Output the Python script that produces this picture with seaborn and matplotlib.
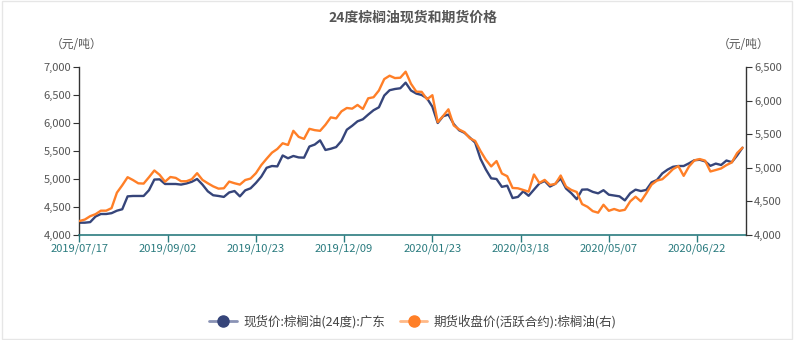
import numpy as np
import pandas as pd
import matplotlib
matplotlib.use("Agg")
import matplotlib.pyplot as plt
from matplotlib.lines import Line2D
from matplotlib.patches import Rectangle
import seaborn as sns

# ---------------- data ----------------
title = "24度棕榈油现货和期货价格"
unit = "（元/吨）"
spot_name = "现货价:棕榈油(24度):广东"
fut_name = "期货收盘价(活跃合约):棕榈油(右)"

tick_labels = ["2019/07/17", "2019/09/02", "2019/10/23", "2019/12/09",
               "2020/01/23", "2020/03/18", "2020/05/07", "2020/06/22"]
tick_every = 33          # trading days between labelled ticks
step = 2                 # trading days between samples

spot = [4220, 4220, 4230, 4330, 4375, 4375, 4390, 4434, 4460, 4690,
        4697, 4697, 4697, 4800, 4990, 4994, 4911, 4911, 4911, 4900,
        4920, 4950, 5000, 4900, 4780, 4710, 4697, 4680, 4760, 4785,
        4690, 4797, 4834, 4930, 5042, 5200, 5232, 5225, 5420, 5370,
        5411, 5385, 5381, 5580, 5615, 5690, 5518, 5540, 5570, 5680,
        5880, 5950, 6030, 6066, 6150, 6228, 6280, 6490, 6585, 6607,
        6620, 6720, 6580, 6525, 6500, 6440, 6290, 6000, 6120, 6150,
        5980, 5870, 5825, 5740, 5650, 5360, 5170, 5012, 5000, 4860,
        4880, 4660, 4680, 4780, 4700, 4810, 4920, 4965, 4865, 4915,
        5010, 4830, 4745, 4640, 4810, 4814, 4770, 4744, 4800, 4720,
        4705, 4690, 4618, 4745, 4810, 4785, 4805, 4940, 4982, 5100,
        5168, 5218, 5232, 5232, 5280, 5335, 5343, 5315, 5235, 5275,
        5250, 5330, 5300, 5420, 5559]

futures = [4208, 4230, 4280, 4310, 4362, 4362, 4400, 4630, 4740, 4860,
           4818, 4769, 4765, 4860, 4960, 4895, 4793, 4863, 4850, 4800,
           4800, 4830, 4920, 4820, 4770, 4724, 4690, 4695, 4795, 4770,
           4750, 4818, 4840, 4920, 5040, 5135, 5225, 5280, 5365, 5340,
           5550, 5460, 5430, 5580, 5560, 5550, 5640, 5750, 5735, 5840,
           5890, 5880, 5935, 5875, 6034, 6050, 6150, 6320, 6370, 6335,
           6340, 6430, 6250, 6133, 6130, 6020, 6080, 5680, 5770, 5870,
           5630, 5570, 5530, 5440, 5400, 5250, 5120, 5020, 5100, 4915,
           4875, 4700, 4695, 4670, 4645, 4900, 4775, 4820, 4745, 4760,
           4885, 4720, 4670, 4640, 4460, 4420, 4355, 4332, 4450, 4360,
           4387, 4360, 4375, 4500, 4570, 4500, 4620, 4750, 4810, 4830,
           4900, 4980, 5025, 4880, 5020, 5110, 5130, 5107, 4945, 4967,
           4990, 5040, 5080, 5220, 5299]

# ---------------- style ----------------
sns.set_theme(style="white")
plt.rcParams["font.family"] = ["Noto Sans CJK SC", "DejaVu Sans"]
plt.rcParams["axes.unicode_minus"] = False

navy = "#36457a"
orange = "#ff7f27"
teal = "#2a7b7f"
grey_txt = "#555555"

day = np.arange(len(spot)) * step
df = pd.DataFrame({"day": day, "spot": spot, "futures": futures})

fig = plt.figure(figsize=(7.94, 3.40), dpi=100)
ax = fig.add_axes([0.1001, 0.3088, 0.8394, 0.4942])
ax2 = ax.twinx()

sns.lineplot(data=df, x="day", y="spot", ax=ax, color=navy, linewidth=1.7)
sns.lineplot(data=df, x="day", y="futures", ax=ax2, color=orange, linewidth=1.7)

ax.set_xlim(0, 249.3)
ax.set_ylim(4000, 7000)
ax2.set_ylim(4000, 6500)

ax.set_yticks(np.arange(4000, 7001, 500))
ax.set_yticklabels([f"{v:,}" for v in range(4000, 7001, 500)])
ax2.set_yticks(np.arange(4000, 6501, 500))
ax2.set_yticklabels([f"{v:,}" for v in range(4000, 6501, 500)])

xt = [i * tick_every for i in range(len(tick_labels))]
ax.set_xticks(xt)
ax.set_xticklabels(tick_labels)

for a in (ax, ax2):
    a.set_xlabel("")
    a.set_ylabel("")
    a.grid(False)
    for s in a.spines.values():
        s.set_visible(False)

ax.spines["left"].set_visible(True)
ax.spines["left"].set_color("#333333")
ax.spines["left"].set_linewidth(1.0)
ax.spines["bottom"].set_visible(True)
ax.spines["bottom"].set_color(teal)
ax.spines["bottom"].set_linewidth(1.2)
ax2.spines["right"].set_visible(True)
ax2.spines["right"].set_color("#333333")
ax2.spines["right"].set_linewidth(1.0)

ax.tick_params(axis="y", which="both", left=True, length=4, width=0.8,
               color="#333333", labelsize=8, labelcolor=grey_txt, pad=2)
ax2.tick_params(axis="y", which="both", right=True, length=4, width=0.8,
                color="#333333", labelsize=8, labelcolor=grey_txt, pad=2)
ax.tick_params(axis="x", which="both", bottom=True, length=5, width=1.0,
               color=teal, labelsize=8, labelcolor=teal, pad=1)

fig.text(0.52, 0.947, title, ha="center", va="center", fontsize=10,
         fontweight="bold", color=grey_txt)
fig.text(0.097, 0.868, unit, ha="center", va="center", fontsize=8.5,
         color=grey_txt)
fig.text(0.937, 0.868, unit, ha="center", va="center", fontsize=8.5,
         color=grey_txt)

handles = [
    Line2D([0], [0], color="#8a93b5", lw=2, marker="o", markersize=8,
           markerfacecolor=navy, markeredgecolor=navy),
    Line2D([0], [0], color="#ffb987", lw=2, marker="o", markersize=8,
           markerfacecolor=orange, markeredgecolor=orange),
]
fig.legend(handles, [spot_name, fut_name], loc="center",
           bbox_to_anchor=(0.52, 0.055), ncol=2, frameon=False,
           fontsize=9, handlelength=2.2, columnspacing=1.2,
           handletextpad=0.5, labelcolor="#444444")

fig.patches.append(Rectangle((0.002, 0.003), 0.996, 0.994,
                             transform=fig.transFigure, fill=False,
                             edgecolor="#e6e6e6", linewidth=1.0))

fig.savefig("out.png", dpi=100, facecolor="white")
